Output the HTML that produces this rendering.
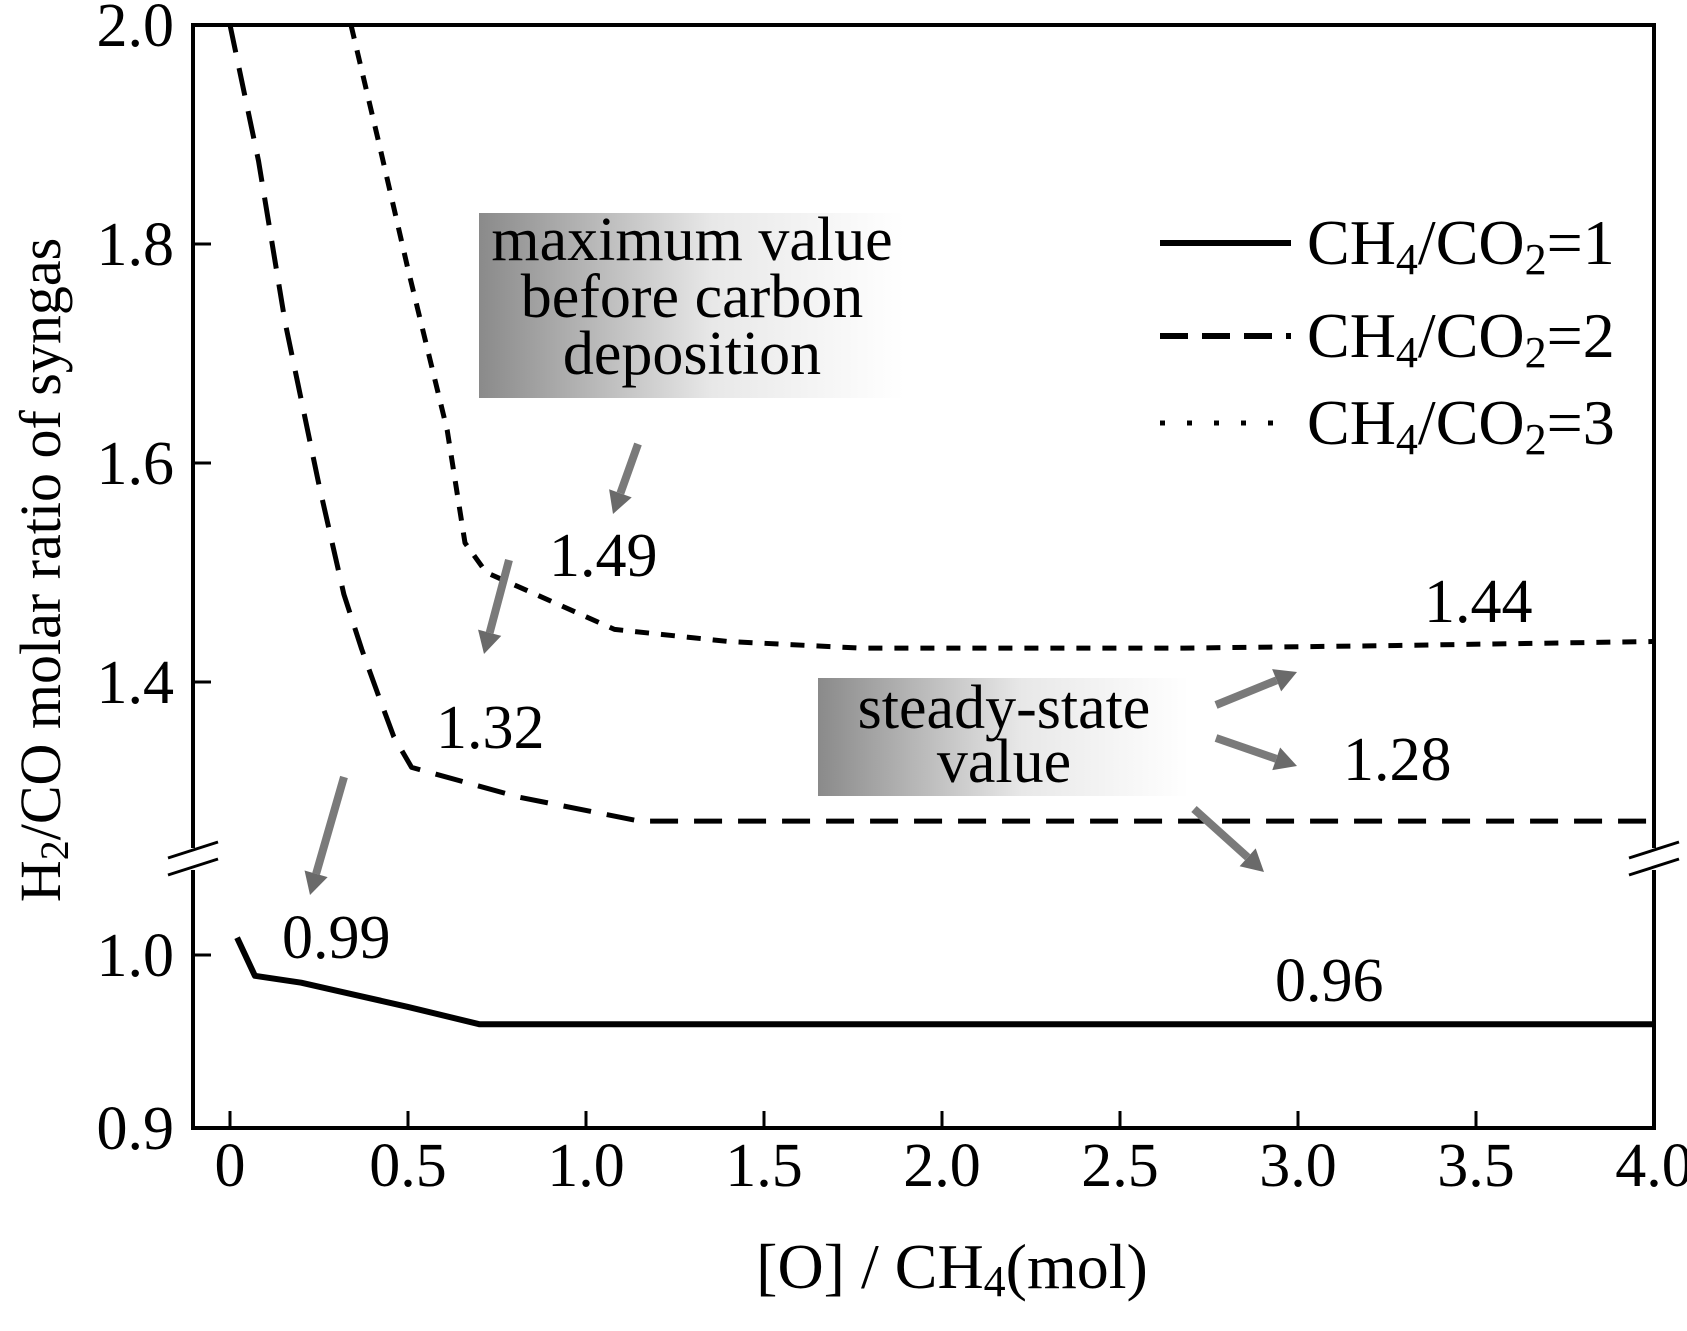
<!DOCTYPE html>
<html><head><meta charset="utf-8"><style>
html,body{margin:0;padding:0;background:#fff}
svg text{font-family:"Liberation Serif",serif;fill:#000}
</style></head><body>
<svg id="chart" width="1687" height="1326" viewBox="0 0 1687 1326" xmlns="http://www.w3.org/2000/svg">
<defs>
<linearGradient id="gbox" x1="0" x2="1" y1="0" y2="0"><stop offset="0" stop-color="#8a8a8a"/><stop offset="0.55" stop-color="#e8e8e8"/><stop offset="1" stop-color="#fff"/></linearGradient>
</defs>
<g id="annot">
<rect x="479" y="213" width="425" height="185" fill="url(#gbox)"/>
<text x="692" y="260" font-size="62" text-anchor="middle">maximum value</text>
<text x="692" y="317" font-size="62" text-anchor="middle">before carbon</text>
<text x="692" y="374" font-size="62" text-anchor="middle">deposition</text>
<rect x="818" y="678" width="371" height="118" fill="url(#gbox)"/>
<text x="1004" y="728" font-size="62" text-anchor="middle">steady-state</text>
<text x="1004" y="782" font-size="62" text-anchor="middle">value</text>
<text x="549" y="576" font-size="62">1.49</text>
<text x="436" y="748" font-size="62">1.32</text>
<text x="282" y="958" font-size="62">0.99</text>
<text x="1275" y="1001" font-size="62">0.96</text>
<text x="1424" y="622" font-size="62">1.44</text>
<text x="1343" y="780" font-size="62">1.28</text>
</g>
<g id="plot"></g>
<g id="axes"></g>
<g>
<line x1="1160" y1="243" x2="1291" y2="243" stroke="#000" stroke-width="6"/>
<line x1="1160" y1="336" x2="1291" y2="336" stroke="#000" stroke-width="6" stroke-dasharray="28 14"/>
<line x1="1160" y1="423" x2="1291" y2="423" stroke="#000" stroke-width="5" stroke-dasharray="5 22"/>
<text x="1307" y="264" font-size="64">CH<tspan font-size="44" dy="10">4</tspan><tspan dy="-10">/CO</tspan><tspan font-size="44" dy="10">2</tspan><tspan dy="-10">=1</tspan></text>
<text x="1307" y="357" font-size="64">CH<tspan font-size="44" dy="10">4</tspan><tspan dy="-10">/CO</tspan><tspan font-size="44" dy="10">2</tspan><tspan dy="-10">=2</tspan></text>
<text x="1307" y="444" font-size="64">CH<tspan font-size="44" dy="10">4</tspan><tspan dy="-10">/CO</tspan><tspan font-size="44" dy="10">2</tspan><tspan dy="-10">=3</tspan></text>
</g>
<text x="952" y="1288" font-size="64" text-anchor="middle">[O] / CH<tspan font-size="44" dy="8">4</tspan><tspan dy="-8">(mol)</tspan></text>
<text transform="translate(60,570) rotate(-90)" font-size="58" text-anchor="middle">H<tspan font-size="40" dy="8">2</tspan><tspan dy="-8">/CO  molar ratio of syngas</tspan></text>
</svg>
<script>
const xTicks=[0,0.5,1.0,1.5,2.0,2.5,3.0,3.5,4.0];
const xTickLabels=["0","0.5","1.0","1.5","2.0","2.5","3.0","3.5","4.0"];
const yTicksUpper=[2.0,1.8,1.6,1.4];
const yTicksLower=[1.0,0.9];
const yTickLabels={"2":"2.0","1.8":"1.8","1.6":"1.6","1.4":"1.4","1":"1.0","0.9":"0.9"};
const s1X=[0.02,0.07,0.2,0.35,0.5,0.7,1.0,2.0,3.0,4.0];
const s1Y=[1.010,0.988,0.984,0.977,0.970,0.960,0.960,0.960,0.960,0.960];
const s2X=[0.0,0.08,0.155,0.25,0.32,0.37,0.42,0.46,0.51,0.81,1.15,2.0,3.0,4.0];
const s2Y=[2.0,1.876,1.728,1.58,1.48,1.43,1.385,1.35,1.322,1.295,1.273,1.273,1.273,1.273];
const s3X=[0.34,0.42,0.50,0.61,0.66,0.72,0.81,1.08,1.4,1.77,2.68,3.2,4.0];
const s3Y=[2.0,1.89,1.777,1.63,1.527,1.50,1.487,1.448,1.437,1.431,1.431,1.433,1.437];
const NS="http://www.w3.org/2000/svg";
const L=193,R=1654,T=25,B=1128;
function xs(v){return 230+v*356;}
function ys(v){return v>=1.2?25+(2.0-v)*1095:955+(1.0-v)*1730;}
const plot=document.getElementById('plot');
const axes=document.getElementById('axes');
function mk(tag,attrs,parent){const e=document.createElementNS(NS,tag);for(const k in attrs)e.setAttribute(k,attrs[k]);parent.appendChild(e);return e;}
function series(xa,ya,w,dash,name){
 const d=xa.map((x,i)=>(i?'L':'M')+xs(x).toFixed(1)+' '+ys(ya[i]).toFixed(1)).join(' ');
 const p=mk('path',{d:d,fill:'none',stroke:'#000','stroke-width':w,'stroke-dasharray':dash,'stroke-linejoin':'round'},plot);
 
 
}
series(s1X,s1Y,6,'none','line-ratio-1');
series(s2X,s2Y,5,'28 16','line-ratio-2');
series(s3X,s3Y,5,'14 12','line-ratio-3');
const arrows=[[638,444,613,514],[509,560,484,654],[344,777,310,895],[1216,705,1297,672],[1216,738,1297,766],[1194,809,1264,872]];
arrows.forEach((a,i)=>{
 const [x1,y1,x2,y2]=a;const dx=x2-x1,dy=y2-y1,len=Math.hypot(dx,dy),ux=dx/len,uy=dy/len;
 const bx=x2-ux*22,by=y2-uy*22;
 const g=mk('g',{},plot);
 
 
 mk('line',{x1:x1,y1:y1,x2:bx,y2:by,stroke:'#7a7a7a','stroke-width':8},g);
 mk('polygon',{points:`${x2},${y2} ${bx-uy*12},${by+ux*12} ${bx+uy*12},${by-ux*12}`,fill:'#6a6a6a'},g);
});
const fr=mk('path',{d:`M${L} ${T} H${R} V${B} H${L} Z`,fill:'none',stroke:'#000','stroke-width':4},axes);


[[L,862],[R,862]].forEach(([bx,by])=>{
 mk('rect',{x:bx-4,y:by-14,width:8,height:22,fill:'#fff'},axes);
 const g=mk('g',{},axes);
 
 
 mk('line',{x1:bx-25,y1:by-4,x2:bx+25,y2:by-20,stroke:'#000','stroke-width':3},g);
 mk('line',{x1:bx-25,y1:by+13,x2:bx+25,y2:by-3,stroke:'#000','stroke-width':3},g);
});
xTicks.forEach((v,i)=>{
 const x=xs(v);
 if(i<xTicks.length-1){const t=mk('line',{x1:x,y1:B,x2:x,y2:B-17,stroke:'#000','stroke-width':3},axes);
 
 }
 const tx=mk('text',{x:x,y:1186,'font-size':62,'text-anchor':'middle'},axes);
 tx.textContent=xTickLabels[i];
 
 
});
yTicksUpper.concat(yTicksLower).forEach(v=>{
 const y=ys(v);
 if(v!==2.0&&v!==0.9){const t=mk('line',{x1:L,y1:y,x2:L+18,y2:y,stroke:'#000','stroke-width':3},axes);
 
 }
 const tx=mk('text',{x:174,y:y+21,'font-size':62,'text-anchor':'end'},axes);
 tx.textContent=yTickLabels[String(v)];
 
 
});
</script>
</body></html>
